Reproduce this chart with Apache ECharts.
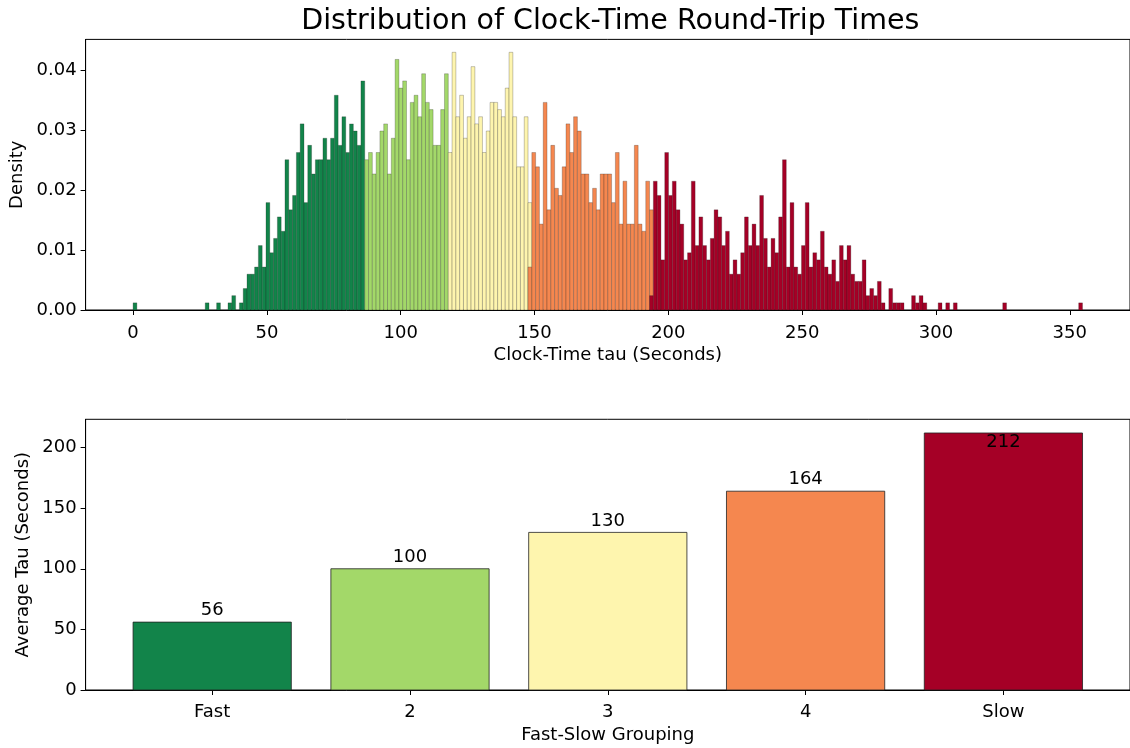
<!DOCTYPE html>
<html>
<head>
<meta charset="utf-8">
<script src="https://cdn.jsdelivr.net/npm/echarts@6/dist/echarts.min.js"></script>
<style>
  html, body { margin: 0; padding: 0; background: #ffffff; }
  #chart { width: 1130px; height: 748px; }
</style>
</head>
<body>
<div id="chart"></div>
<script>
// ---- Histogram bins (seconds) ----
const binOrigin = 0;
const binWidth = 1.419;

// Density per bin for each speed group; each list starts at its first bin index.
const fastFirstBin = 0;
const fastDensity = [
  0.00119, 0, 0, 0, 0, 0, 0, 0, 0, 0, 0, 0, 0, 0, 0, 0, 0, 0, 0,
  0.00119, 0, 0, 0.00119, 0, 0, 0.00119, 0.00239, 0, 0.00119, 0.00358,
  0.00597, 0.00597, 0.00716, 0.01074, 0.00716, 0.0179, 0.00954, 0.01193, 0.01551, 0.01312,
  0.02505, 0.0167, 0.01909, 0.02625, 0.03102, 0.0179, 0.02744, 0.02267, 0.02505, 0.02505,
  0.02863, 0.02505, 0.02863, 0.03579, 0.02744, 0.03221, 0.02625, 0.03102, 0.02983, 0.02744,
  0.03818
];
const group2FirstBin = 61;
const group2Density = [
  0.02505, 0.02625, 0.02267, 0.02625, 0.02983, 0.03102, 0.02267, 0.02863, 0.04176, 0.03698,
  0.03818, 0.02505, 0.0346, 0.03579, 0.03221, 0.03937, 0.0346, 0.0334, 0.02744, 0.02744,
  0.0334, 0.03937
];
const group3FirstBin = 83;
const group3Density = [
  0.02625, 0.04295, 0.03221, 0.03579, 0.02863, 0.03221, 0.04056, 0.03102, 0.03221, 0.02625,
  0.02983, 0.0346, 0.0346, 0.0334, 0.03221, 0.03698, 0.04295, 0.03221, 0.02386, 0.02386,
  0.03221, 0.0179
];
const group4FirstBin = 104;
const group4Density = [
  0.00716, 0.02625, 0.02386, 0.01432, 0.0346, 0.0167, 0.02744, 0.02028, 0.01909, 0.02386,
  0.03102, 0.02625, 0.03221, 0.02983, 0.02267, 0.02267, 0.0179, 0.02028, 0.0167, 0.02267,
  0.02267, 0.02267, 0.0179, 0.02625, 0.01432, 0.02147, 0.01432, 0.01432, 0.02744, 0.01432,
  0.01312, 0.02147, 0.0167
];
const slowFirstBin = 136;
const slowDensity = [
  0.00239, 0.02147, 0.01909, 0.00835, 0.02625, 0.01909, 0.02147, 0.0167, 0.01432, 0.00835,
  0.00954, 0.02147, 0.01074, 0.01551, 0.01074, 0.00835, 0.01193, 0.0167, 0.01551, 0.01074,
  0.01312, 0.00597, 0.00835, 0.00597, 0.00954, 0.01551, 0.01074, 0.01432, 0.01074, 0.01909,
  0.01193, 0.00716, 0.01193, 0.00954, 0.01551, 0.02505, 0.00716, 0.0179, 0.00716, 0.00597,
  0.01074, 0.0179, 0.00716, 0.00954, 0.00835, 0.01312, 0.00716, 0.00597, 0.00835, 0.00477,
  0.01074, 0.00835, 0.01074, 0.00597, 0.00477, 0.00477, 0.00835, 0.00239, 0.00358, 0.00239,
  0.00477, 0.00119, 0, 0.00358, 0.00119, 0.00119, 0.00119, 0, 0, 0.00239,
  0.00119, 0.00239, 0.00119, 0, 0, 0, 0.00119, 0, 0.00119, 0,
  0.00119, 0, 0, 0, 0, 0, 0, 0, 0, 0, 0, 0, 0,
  0.00119, 0, 0, 0, 0, 0, 0, 0, 0, 0, 0, 0, 0, 0, 0, 0, 0, 0, 0, 0,
  0.00119
];

// ---- Group averages ----
const groupNames = ['Fast', '2', '3', '4', 'Slow'];
const groupMeans = [56, 100, 130, 164, 212];
const groupColors = ['#12844a', '#a3d869', '#fef5ae', '#f5874f', '#a50026'];

// ---- Tick values ----
const tauTicks = [0, 50, 100, 150, 200, 250, 300, 350];
const densityTicks = [0, 0.01, 0.02, 0.03, 0.04];
const groupTicks = [0, 1, 2, 3, 4];
const meanTicks = [0, 50, 100, 150, 200];

const FONT = 'DejaVu Sans';
const FONT_SIZE = 18;
const textStyle = { fontFamily: FONT, fontSize: FONT_SIZE, color: '#000' };

function histSeries(name, firstBin, density, color) {
  return {
    type: 'custom',
    name: name,
    xAxisIndex: 0,
    yAxisIndex: 0,
    data: density.map((d, k) => [
      binOrigin + (firstBin + k) * binWidth,
      binOrigin + (firstBin + k + 1) * binWidth,
      d
    ]),
    encode: { x: [0, 1], y: 2 },
    renderItem(params, api) {
      const v = api.value(2);
      if (!v) return null;
      const p0 = api.coord([api.value(0), v]);
      const p1 = api.coord([api.value(1), 0]);
      return {
        type: 'rect',
        shape: { x: p0[0], y: p0[1], width: p1[0] - p0[0], height: p1[1] - p0[1] },
        style: { fill: color, stroke: 'rgba(30,30,30,0.5)', lineWidth: 0.5 }
      };
    }
  };
}

const meanSeries = {
  type: 'custom',
  name: 'Average Tau',
  xAxisIndex: 1,
  yAxisIndex: 1,
  data: groupMeans.map((v, i) => [i, v]),
  encode: { x: 0, y: 1 },
  renderItem(params, api) {
    const i = api.value(0);
    const v = api.value(1);
    const p0 = api.coord([i - 0.4, v]);
    const p1 = api.coord([i + 0.4, 0]);
    const inside = i === groupMeans.length - 1;
    return {
      type: 'rect',
      shape: { x: p0[0], y: p0[1], width: p1[0] - p0[0], height: p1[1] - p0[1] },
      style: { fill: groupColors[i], stroke: '#222', lineWidth: 0.8 },
      textContent: {
        style: { text: String(v), fill: '#000', fontFamily: FONT, fontSize: FONT_SIZE }
      },
      textConfig: { position: inside ? 'insideTop' : 'top', distance: inside ? 1 : 2 }
    };
  }
};

function valueAxisX(gridIndex, min, max, ticks, fmt, name, labelMargin) {
  return {
    type: 'value', gridIndex, min, max, name,
    nameLocation: 'middle', nameGap: 36, nameTextStyle: textStyle, nameMoveOverlap: false,
    axisLine: { show: true, onZero: false, lineStyle: { color: '#000', width: 1 } },
    axisTick: { show: true, length: 5, customValues: ticks, lineStyle: { color: '#000', width: 1 } },
    axisLabel: { customValues: ticks, formatter: fmt, margin: labelMargin, ...textStyle },
    splitLine: { show: false }
  };
}
function valueAxisY(gridIndex, max, ticks, fmt, name, gap) {
  return {
    type: 'value', gridIndex, min: 0, max, name,
    nameLocation: 'middle', nameGap: gap, nameTextStyle: textStyle, nameMoveOverlap: false,
    axisLine: { show: true, onZero: false, lineStyle: { color: '#000', width: 1 } },
    axisTick: { show: true, length: 5, customValues: ticks, lineStyle: { color: '#000', width: 1 } },
    axisLabel: { customValues: ticks, formatter: fmt, margin: 9, ...textStyle },
    splitLine: { show: false }
  };
}

const chart = echarts.init(document.getElementById('chart'), null, { renderer: 'canvas' });
chart.setOption({
  backgroundColor: '#ffffff',
  animation: false,
  title: {
    text: 'Distribution of Clock-Time Round-Trip Times',
    left: 610.3, top: 7, padding: 0, textAlign: 'center',
    textStyle: { fontFamily: FONT, fontSize: 28.5, fontWeight: 'normal', color: '#000' }
  },
  grid: [
    { left: 85.6, top: 39.4, width: 1049.4, height: 270.6, show: true, borderColor: '#000', borderWidth: 1, backgroundColor: 'transparent' },
    { left: 85.6, top: 419.3, width: 1049.4, height: 270.7, show: true, borderColor: '#000', borderWidth: 1, backgroundColor: 'transparent' }
  ],
  xAxis: [
    valueAxisX(0, -17.74, 372.5, tauTicks, v => String(v), 'Clock-Time tau (Seconds)', 14),
    valueAxisX(1, -0.64, 4.64, groupTicks, v => groupNames[Math.round(v)], 'Fast-Slow Grouping', 13)
  ],
  yAxis: [
    valueAxisY(0, 0.0451, densityTicks, v => v.toFixed(2), 'Density', 59),
    valueAxisY(1, 223.3, meanTicks, v => String(v), 'Average Tau (Seconds)', 53)
  ],
  series: [
    histSeries('Fast', fastFirstBin, fastDensity, groupColors[0]),
    histSeries('2', group2FirstBin, group2Density, groupColors[1]),
    histSeries('3', group3FirstBin, group3Density, groupColors[2]),
    histSeries('4', group4FirstBin, group4Density, groupColors[3]),
    histSeries('Slow', slowFirstBin, slowDensity, groupColors[4]),
    meanSeries
  ]
});
</script>
</body>
</html>
